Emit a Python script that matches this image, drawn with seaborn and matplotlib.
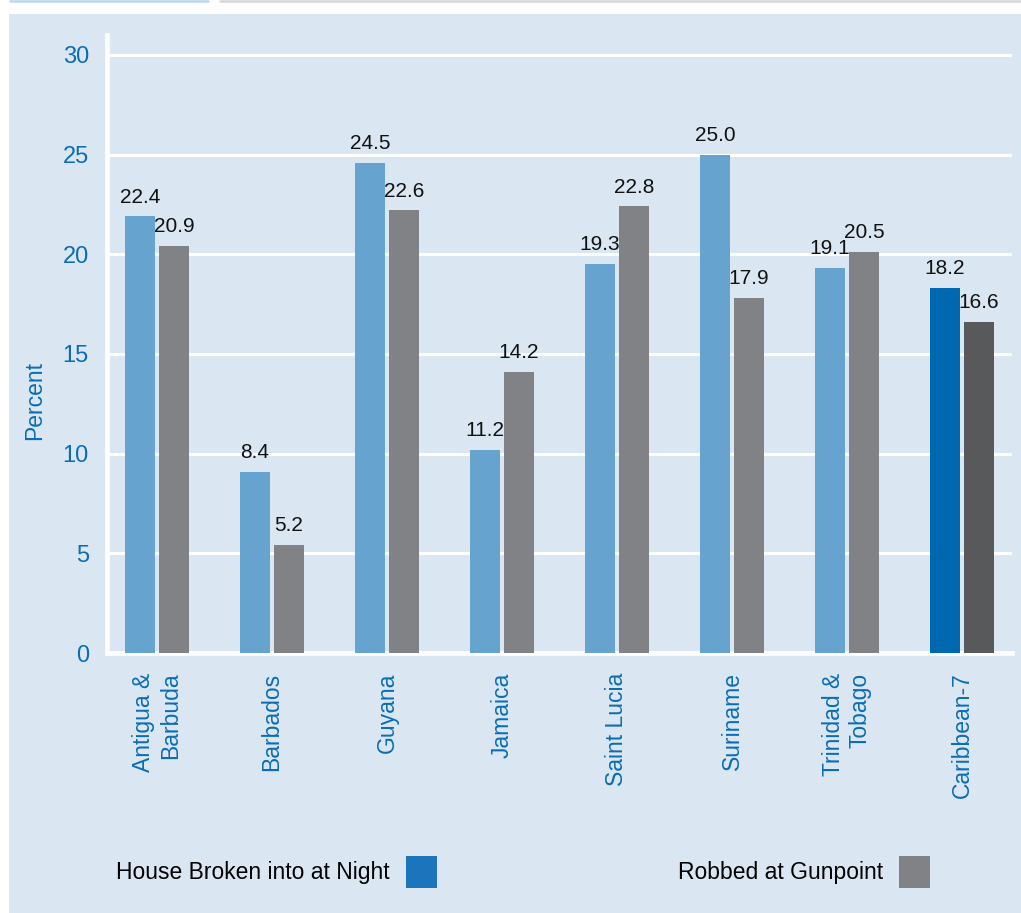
import matplotlib.pyplot as plt
import seaborn as sns
import pandas as pd
from matplotlib.patches import Patch, Rectangle
from matplotlib.lines import Line2D

# =========================
# VICTIMIZATION: HOUSE BROKEN INTO / ROBBED AT GUNPOINT
# =========================

countries = ['Antigua &\nBarbuda', 'Barbados', 'Guyana', 'Jamaica',
             'Saint Lucia', 'Suriname', 'Trinidad &\nTobago', 'Caribbean-7']
series = ['House Broken into at Night', 'Robbed at Gunpoint']

# bar heights as drawn in the reference
house_bar = [21.9, 9.1, 24.6, 10.2, 19.5, 25.0, 19.3, 18.3]
robbed_bar = [20.4, 5.4, 22.2, 14.1, 22.4, 17.8, 20.1, 16.6]

# value labels printed above the bars
house_label = ['22.4', '8.4', '24.5', '11.2', '19.3', '25.0', '19.1', '18.2']
robbed_label = ['20.9', '5.2', '22.6', '14.2', '22.8', '17.9', '20.5', '16.6']

yticks = [0, 5, 10, 15, 20, 25, 30]

# colours
bg = '#dae7f2'
blue = '#66a4cf'
gray = '#818285'
blue_dark = '#0067b1'
gray_dark = '#58595b'
legend_blue = '#1c75bc'
text_blue = '#0b6db5'

df = pd.DataFrame({
    'country': countries * 2,
    'value': house_bar + robbed_bar,
    'series': [series[0]] * len(countries) + [series[1]] * len(countries),
})

sns.set_style('white')
plt.rcParams['font.family'] = ['Liberation Sans', 'DejaVu Sans']

W, H = 1021, 913
fig = plt.figure(figsize=(W / 100, H / 100), dpi=100, facecolor='white')

# light blue panel + thin lines at the top
fig.add_artist(Rectangle((9 / W, 0), 1, (H - 14) / H, transform=fig.transFigure,
                         facecolor=bg, edgecolor='none', zorder=-10))
fig.add_artist(Line2D([10 / W, 208 / W], [1 - 1 / H] * 2, transform=fig.transFigure,
                      color='#b9d7ef', lw=1.8))
fig.add_artist(Line2D([220 / W, 1], [1 - 1 / H] * 2, transform=fig.transFigure,
                      color='#d6d6d6', lw=1.8))

ax = fig.add_axes([107 / W, (H - 653) / H, 905 / W, 618 / H])
ax.set_facecolor(bg)

sns.barplot(data=df, x='country', y='value', hue='series', palette=[blue, gray],
            width=0.59, gap=0.12, saturation=1, errorbar=None, legend=False,
            linewidth=0, ax=ax)

# Caribbean-7 average in darker shades
ax.containers[0][7].set_facecolor(blue_dark)
ax.containers[1][7].set_facecolor(gray_dark)

for cont, labels in zip(ax.containers, [house_label, robbed_label]):
    for bar, lab in zip(cont, labels):
        ax.annotate(lab, (bar.get_x() + bar.get_width() / 2, bar.get_height()),
                    xytext=(0, 10), textcoords='offset points',
                    ha='center', va='baseline', fontsize=15, color='#111111')

ax.set_xlim(-0.435, 7.435)
ax.set_ylim(0, 31)
ax.set_yticks(yticks)
ax.set_yticklabels([str(t) for t in yticks], fontsize=17, color=text_blue)
ax.set_xticks(range(len(countries)))
ax.set_xticklabels(countries, rotation=90, ha='center', va='top',
                   multialignment='right', fontsize=16.5, color=text_blue)
ax.tick_params(axis='both', length=0)
ax.tick_params(axis='y', pad=13)
ax.tick_params(axis='x', pad=14)

ax.set_xlabel('')
ax.set_ylabel('Percent', fontsize=16.5, color=text_blue)
ax.yaxis.set_label_coords(-0.067, 0.409)

ax.set_axisbelow(True)
ax.yaxis.grid(True, color='white', linewidth=2.2)
ax.xaxis.grid(False)
for side in ['top', 'right']:
    ax.spines[side].set_visible(False)
for side in ['left', 'bottom']:
    ax.spines[side].set_color('white')
    ax.spines[side].set_linewidth(3.4)
    ax.spines[side].set_zorder(0.5)

# legend: two separate entries, text before the swatch
for name, col, x0 in [(series[0], legend_blue, 116), (series[1], gray, 678)]:
    fig.legend(handles=[Patch(facecolor=col, edgecolor='none')], labels=[name],
               loc='center left', bbox_to_anchor=(x0 / W, 1 - 872 / H),
               frameon=False, markerfirst=False, borderpad=0, borderaxespad=0,
               handlelength=1.35, handleheight=1.75, handletextpad=0.7,
               fontsize=16.5, labelcolor='black')

fig.savefig('out.png', dpi=100)
plt.close(fig)
